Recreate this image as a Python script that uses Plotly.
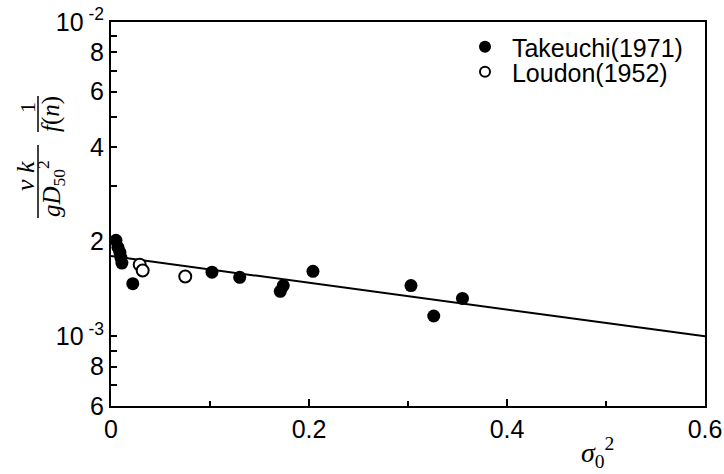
import plotly.graph_objects as go
import math

# Data
tak_x = [0.005, 0.007, 0.009, 0.010, 0.011, 0.022, 0.102, 0.130, 0.171, 0.174, 0.204, 0.303, 0.326, 0.355]
tak_y = [2.02e-3, 1.92e-3, 1.85e-3, 1.78e-3, 1.71e-3, 1.47e-3, 1.60e-3, 1.54e-3, 1.39e-3, 1.45e-3, 1.61e-3, 1.45e-3, 1.16e-3, 1.32e-3]
lou_x = [0.029, 0.032, 0.075]
lou_y = [1.69e-3, 1.62e-3, 1.55e-3]
fit_x = [0.0, 0.6]
fit_y = [1.8e-3, 1.0e-3]

y_tickvals = [6e-4, 7e-4, 8e-4, 9e-4, 1e-3, 2e-3, 3e-3, 4e-3, 5e-3, 6e-3, 7e-3, 8e-3, 9e-3, 1e-2]
y_ticktext = ["6", "", "8", "", "10<sup> -3</sup>", "2", "", "4", "", "6", "", "8", "", "10<sup> -2</sup>"]
x_tickvals = [0, 0.2, 0.4, 0.6]
x_ticktext = ["0", "0.2", "0.4", "0.6"]
x_minor = [0.1, 0.3, 0.5]

W, H = 724, 474
L, R, T, B = 111, 19, 22, 68
PW, PH = W - L - R, H - T - B

def px(xp):
    return (xp - L) / PW

def py(yp):
    return (H - B - yp) / PH

sans = "Liberation Sans, Arial, sans-serif"
serif = "Liberation Serif, Times New Roman, serif"

fig = go.Figure()
fig.add_trace(go.Scatter(x=fit_x, y=fit_y, mode="lines", line=dict(color="black", width=2), showlegend=False))
fig.add_trace(go.Scatter(x=tak_x, y=tak_y, mode="markers", name="Takeuchi(1971)", showlegend=False,
                         marker=dict(color="black", size=13, line=dict(color="black", width=0))))
fig.add_trace(go.Scatter(x=lou_x, y=lou_y, mode="markers", name="Loudon(1952)", showlegend=False,
                         marker=dict(color="white", size=12, line=dict(color="black", width=2))))
# legend entries (same series, legend-only display)
fig.add_trace(go.Scatter(x=[None], y=[None], mode="markers", name="\u00a0Takeuchi(1971)", legend="legend",
                         marker=dict(color="black", size=12, line=dict(color="black", width=0))))
fig.add_trace(go.Scatter(x=[None], y=[None], mode="markers", name="\u00a0Loudon(1952)", legend="legend2",
                         marker=dict(color="white", size=10, line=dict(color="black", width=2))))

legfont = dict(family=sans, size=25, color="black")
fig.update_layout(
    width=W, height=H,
    margin=dict(l=L, r=R, t=T, b=B, autoexpand=False),
    paper_bgcolor="white", plot_bgcolor="white",
    font=dict(family=sans, color="black", size=20),
    legend=dict(x=px(465), y=py(47), xanchor="left", yanchor="middle",
                bgcolor="rgba(0,0,0,0)", font=legfont, itemsizing="trace"),
    legend2=dict(x=px(465), y=py(72), xanchor="left", yanchor="middle",
                 bgcolor="rgba(0,0,0,0)", font=legfont, itemsizing="trace"),
    xaxis=dict(range=[0, 0.6], tickvals=x_tickvals, ticktext=x_ticktext, ticks="inside", ticklen=7,
               tickwidth=1.5, tickcolor="black", showline=True, linecolor="black", linewidth=2,
               mirror=True, showgrid=False, zeroline=False, tickfont=dict(size=25, family=sans),
               automargin=False,
               minor=dict(tickvals=x_minor, ticks="inside", ticklen=5, tickcolor="black", tickwidth=1.5)),
    yaxis=dict(type="log", range=[math.log10(6e-4), -2], tickvals=y_tickvals, ticktext=y_ticktext,
               ticks="inside", ticklen=6, tickwidth=1.5, tickcolor="black", showline=True,
               linecolor="black", linewidth=2, mirror=True, showgrid=False, zeroline=False,
               automargin=False, tickfont=dict(size=25, family=sans)),
)

# x-axis title
fig.add_annotation(xref="paper", yref="paper", x=px(597), y=py(452), text="<i>σ</i><sub>0</sub><sup>2</sup>",
                   showarrow=False, font=dict(family=serif, size=28), xanchor="center", yanchor="middle")

# y-axis title as rotated fraction
def ann(xp, yp, text, size):
    fig.add_annotation(xref="paper", yref="paper", x=px(xp), y=py(yp), text=text, showarrow=False,
                       textangle=-90, font=dict(family=serif, size=size), xanchor="center", yanchor="middle")

ann(25, 176, "<i>ν k</i>", 26)
ann(27, 108, "1", 22)
ann(51, 189, "<i>gD</i><sub>50</sub><sup>2</sup>", 25)
ann(51, 114, "<i>f</i>(<i>n</i>)", 25)
fig.add_shape(type="line", xref="paper", yref="paper", x0=px(38), x1=px(38), y0=py(145), y1=py(218),
              line=dict(color="black", width=1.5))
fig.add_shape(type="line", xref="paper", yref="paper", x0=px(38), x1=px(38), y0=py(96), y1=py(132),
              line=dict(color="black", width=1.5))

fig.write_html("out.html", config={"displayModeBar": False},
               post_script="document.body.style.margin='0';document.body.style.overflow='hidden';")
